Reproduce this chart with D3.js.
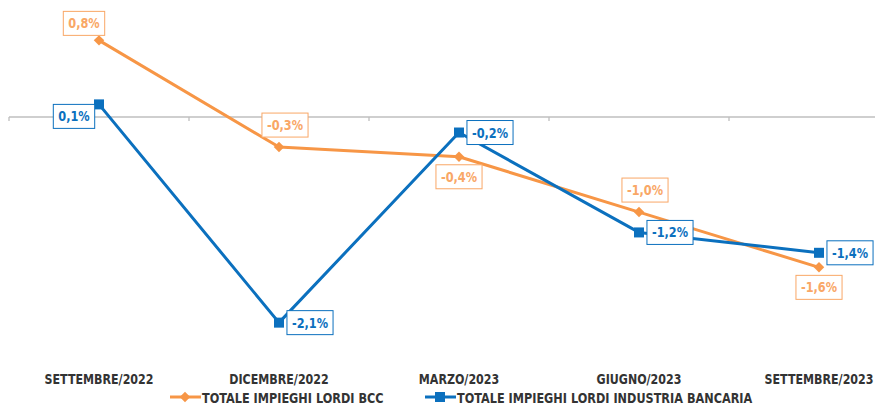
<!DOCTYPE html>
<html>
<head>
<meta charset="utf-8">
<script src="https://cdn.jsdelivr.net/npm/d3@7"></script>
<style>
  body { margin: 0; background: #fff; }
  svg { display: block; }
  text { font-family: "Liberation Sans Narrow", "DejaVu Sans Condensed", "Arial Narrow", sans-serif; font-weight: bold; }
</style>
</head>
<body>
<svg id="chart"></svg>
<script>
var periods = ["SETTEMBRE/2022", "DICEMBRE/2022", "MARZO/2023", "GIUGNO/2023", "SETTEMBRE/2023"];
var bccValues = [0.79, -0.31, -0.41, -0.98, -1.55];
var bccLabels = ["0,8%", "-0,3%", "-0,4%", "-1,0%", "-1,6%"];
var bancaValues = [0.13, -2.12, -0.16, -1.19, -1.40];
var bancaLabels = ["0,1%", "-2,1%", "-0,2%", "-1,2%", "-1,4%"];
var seriesNames = ["TOTALE IMPIEGHI LORDI BCC", "TOTALE IMPIEGHI LORDI INDUSTRIA BANCARIA"];

var width = 875, height = 405;
var orange = "#f79646", orangeLight = "#f9a766", blue = "#0b70be";

// where each data label sits relative to its point
var bccPlace = ["aboveLeft", "above", "below", "above", "below"];
var bancaPlace = ["left", "right", "right", "right", "right"];

var svg = d3.select("#chart").attr("width", width).attr("height", height);

var x = d3.scaleBand().domain(periods).range([9, 909]);
var y = d3.scaleLinear().domain([-2.5, 1]).range([359.5, 20]);

function cx(i) { return x(periods[i]) + x.bandwidth() / 2; }

/*zero axis with tick marks at band edges*/
var axisG = svg.append("g").attr("transform", "translate(0," + y(0) + ")");
axisG.append("line").attr("x1", 9).attr("x2", width).attr("stroke", "#bfbfbf").attr("stroke-width", 1.3);
axisG.selectAll(".tick").data(periods).enter().append("line")
  .attr("x1", function(d) { return x(d); }).attr("x2", function(d) { return x(d); })
  .attr("y1", 0).attr("y2", 4).attr("stroke", "#bfbfbf").attr("stroke-width", 1.3);

/*category labels, squeezed sideways to look like the narrow original font*/
svg.selectAll(".cat").data(periods).enter().append("text")
  .attr("transform", function(d, i) { return "translate(" + cx(i) + ",384) scale(0.85,1)"; })
  .attr("text-anchor", "middle")
  .attr("font-size", 14.5)
  .attr("fill", "#333")
  .text(function(d) { return d; });

var line = d3.line()
  .x(function(d, i) { return cx(i); })
  .y(function(d) { return y(d); });

svg.append("path").datum(bccValues).attr("d", line)
  .attr("fill", "none").attr("stroke", orange).attr("stroke-width", 3).attr("stroke-linejoin", "round");
svg.append("path").datum(bancaValues).attr("d", line)
  .attr("fill", "none").attr("stroke", blue).attr("stroke-width", 3).attr("stroke-linejoin", "round");

var diamond = d3.symbol().type(d3.symbolDiamond2).size(70);
svg.selectAll(".bccPt").data(bccValues).enter().append("path")
  .attr("d", diamond)
  .attr("transform", function(d, i) { return "translate(" + cx(i) + "," + y(d) + ")"; })
  .attr("fill", orange);

svg.selectAll(".bancaPt").data(bancaValues).enter().append("rect")
  .attr("x", function(d, i) { return cx(i) - 5; })
  .attr("y", function(d) { return y(d) - 5; })
  .attr("width", 10).attr("height", 10)
  .attr("fill", blue);

/*data label boxes*/
function offset(place) {
  if (place == "above") return [6, -22];
  if (place == "below") return [0, 20];
  if (place == "aboveLeft") return [-15, -17];
  if (place == "left") return [-25, 12];
  return [31, 0];
}

function labels(values, texts, places, color) {
  values.forEach(function(v, i) {
    var o = offset(places[i]);
    var px = cx(i) + o[0], py = y(v) + o[1];
    var g = svg.append("g").attr("transform", "translate(" + px + "," + py + ")");
    var t = g.append("text").attr("text-anchor", "middle").attr("dy", "0.36em")
      .attr("transform", "scale(0.9,1)")
      .attr("font-size", 14).attr("fill", color).text(texts[i]);
    var w = t.node().getComputedTextLength() * 0.9 + 10;
    g.insert("rect", "text").attr("x", -w / 2).attr("y", -12).attr("width", w).attr("height", 24)
      .attr("fill", "#fff").attr("stroke", color).attr("stroke-width", 1);
  });
}
labels(bccValues, bccLabels, bccPlace, orangeLight);
labels(bancaValues, bancaLabels, bancaPlace, blue);

/*legend*/
var legend = svg.append("g").attr("transform", "translate(0,397)");
var legItems = [
  { name: seriesNames[0], color: orange, x0: 170, marker: "diamond" },
  { name: seriesNames[1], color: blue, x0: 425, marker: "square" }
];
legItems.forEach(function(d) {
  legend.append("line").attr("x1", d.x0).attr("x2", d.x0 + 31)
    .attr("stroke", d.color).attr("stroke-width", 3);
  if (d.marker == "diamond") {
    legend.append("path").attr("d", diamond).attr("transform", "translate(" + (d.x0 + 15) + ",0)").attr("fill", d.color);
  } else {
    legend.append("rect").attr("x", d.x0 + 10).attr("y", -5).attr("width", 10).attr("height", 10).attr("fill", d.color);
  }
  legend.append("text").attr("transform", "translate(" + (d.x0 + 32) + ",6) scale(0.865,1)")
    .attr("font-size", 14.5).attr("fill", "#333").text(d.name);
});
</script>
</body>
</html>
